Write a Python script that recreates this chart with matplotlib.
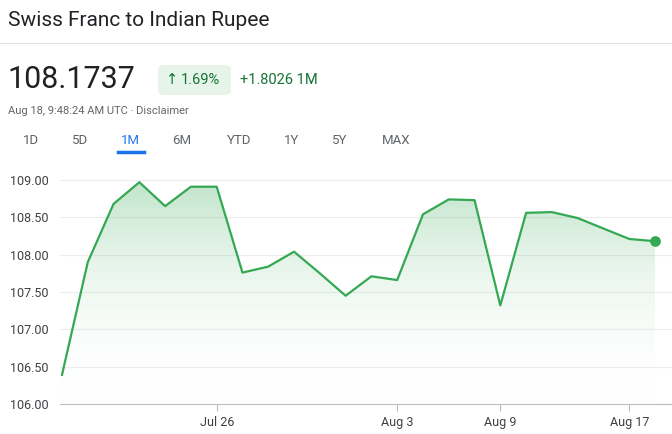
import matplotlib
matplotlib.use("Agg")
import matplotlib.pyplot as plt
from matplotlib.patches import FancyBboxPatch
from matplotlib.colors import LinearSegmentedColormap
import numpy as np

values = [106.39, 107.90, 108.68, 108.97, 108.65, 108.91, 108.91, 107.76, 107.84, 108.04,
          107.75, 107.45, 107.71, 107.66, 108.54, 108.74, 108.73, 107.32, 108.56, 108.57,
          108.49, 108.35, 108.21, 108.18]
tick_idx = [6, 13, 17, 22]
tick_labels = ["Jul 26", "Aug 3", "Aug 9", "Aug 17"]
y_ticks = [106.00, 106.50, 107.00, 107.50, 108.00, 108.50, 109.00]
tabs = ["1D", "5D", "1M", "6M", "YTD", "1Y", "5Y", "MAX"]

W, H = 672, 434
fig = plt.figure(figsize=(6.72, 4.34), dpi=100)
plt.rcParams["font.family"] = "Roboto"
green = "#34a853"
x = np.arange(len(values))
ax = fig.add_axes([60/W, (H-404)/H, 612/W, 236/H])
ax.set_xlim(-(62-60)/25.8, 23 + (672-655)/25.8)
ax.set_ylim(106.0, 106.0 + 236/74.67)
ax.plot(x, values, color=green, lw=1.6, zorder=3)
ax.scatter([x[-1]], [values[-1]], color=green, s=45, zorder=4)
grad = np.linspace(0, 1, 256).reshape(-1, 1)
cmap = LinearSegmentedColormap.from_list("g", [(1, 1, 1, 0), (0.2, 0.66, 0.33, 0.3)])
ymax = max(values)
im = ax.imshow(grad, aspect="auto", cmap=cmap, origin="lower",
               extent=[x[0], x[-1], 106.0, ymax], zorder=1)
poly = ax.fill_between(x, values, 106.0, color="none")
im.set_clip_path(poly.get_paths()[0], transform=ax.transData)
ax.set_yticks(y_ticks)
ax.set_yticklabels([f"{v:.2f}" for v in y_ticks], fontsize=9, color="#3c4043")
ax.set_xticks(tick_idx)
ax.set_xticklabels(tick_labels, fontsize=9, color="#3c4043")
ax.tick_params(axis="y", length=0, pad=36)
ax.tick_params(axis="x", length=5, color="#bdbdbd")
for lab in ax.get_yticklabels():
    lab.set_horizontalalignment("left")
for yv in y_ticks[1:]:
    ax.axhline(yv, color="#ececec", lw=0.8, zorder=0)
for s in ["top", "right", "left"]:
    ax.spines[s].set_visible(False)
ax.spines["bottom"].set_color("#bdbdbd")

def t(px, py, s, **kw):
    fig.text(px/W, 1-py/H, s, **kw)

t(8, 20, "Swiss Franc to Indian Rupee", fontsize=15, color="#202124", va="center")
fig.add_artist(plt.Line2D([0, 1], [1-43/H]*2, color="#e0e0e0", lw=0.8))
t(7, 80, "108.1737", fontsize=22, color="#202124", va="center")
fig.add_artist(FancyBboxPatch((158/W, 1-95/H), 73/W, 30/H, boxstyle="round,pad=0,rounding_size=0.01",
                              transform=fig.transFigure, color="#e6f4ea", ec="none"))
t(172, 80, "↑", fontsize=10.5, color="#137333", va="center", ha="center", family="DejaVu Sans")
t(200, 80, "1.69%", fontsize=10.5, color="#137333", va="center", ha="center")
t(240, 80, "+1.8026 1M", fontsize=10.5, color="#137333", va="center")
t(8, 111, "Aug 18, 9:48:24 AM UTC · Disclaimer", fontsize=8, color="#5f6368", va="center")
tab_x = [31, 80, 130, 182, 239, 292, 340, 396]
for tx, s in zip(tab_x, tabs):
    c = "#1a73e8" if s == "1M" else "#5f6368"
    t(tx, 140, s, fontsize=9.5, color=c, va="center", ha="center")
fig.add_artist(plt.Line2D([118/W, 144/W], [1-152/H]*2, color="#1a73e8", lw=2.5))
fig.savefig("out.png", dpi=100)
